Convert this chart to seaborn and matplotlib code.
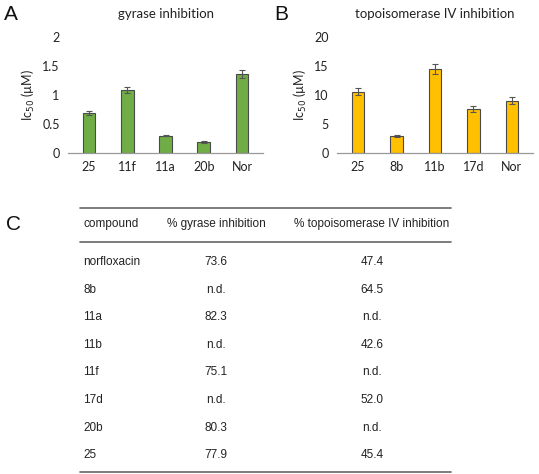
import matplotlib
matplotlib.use("Agg")
import matplotlib.pyplot as plt
import seaborn as sns
import pandas as pd
import numpy as np

# ---- data ----
gyr_compounds = ["25", "11f", "11a", "20b", "Nor"]
gyr_ic50 = [0.69, 1.09, 0.30, 0.19, 1.36]
gyr_err = [0.03, 0.05, 0.01, 0.01, 0.07]

topo_compounds = ["25", "8b", "11b", "17d", "Nor"]
topo_ic50 = [10.6, 2.9, 14.5, 7.6, 9.0]
topo_err = [0.6, 0.2, 0.9, 0.5, 0.6]

table_header = ["compound", "% gyrase inhibition", "% topoisomerase IV inhibition"]
table_compounds = ["norfloxacin", "8b", "11a", "11b", "11f", "17d", "20b", "25"]
table_gyrase = ["73.6", "n.d.", "82.3", "n.d.", "75.1", "n.d.", "80.3", "77.9"]
table_topo = ["47.4", "64.5", "n.d.", "42.6", "n.d.", "52.0", "n.d.", "45.4"]

sns.set_theme(style="white")
plt.rcParams['font.family'] = ['Lato', 'DejaVu Sans']

fig = plt.figure(figsize=(5.39, 4.74), dpi=100)

def bar_panel(rect, cats, vals, errs, color, ylim, yticks, yticklabels, title, letter, letter_x):
    ax = fig.add_axes(rect)
    df = pd.DataFrame({"compound": cats, "ic50": vals})
    sns.barplot(data=df, x="compound", y="ic50", color=color, width=0.33,
                edgecolor="#4a4a4a", linewidth=0.8, saturation=1, ax=ax, errorbar=None)
    ax.errorbar(np.arange(len(cats)), vals, yerr=errs, fmt="none",
                ecolor="#555555", elinewidth=0.8, capsize=2.0, capthick=0.8)
    ax.set_ylim(*ylim)
    ax.set_xlim(-0.55, len(cats) - 0.45)
    ax.set_yticks(yticks)
    ax.set_yticklabels(yticklabels, fontsize=9, color="#222222")
    ax.tick_params(axis="x", labelsize=9, colors="#222222", length=0, pad=6)
    ax.tick_params(axis="y", length=0, pad=6)
    for s in ["top", "right", "left"]:
        ax.spines[s].set_visible(False)
    ax.spines["bottom"].set_color("#999999")
    ax.spines["bottom"].set_linewidth(0.9)
    ax.set_xlabel("")
    ax.set_ylabel("Ic$_{50}$ (µM)", fontsize=9, color="#222222", labelpad=4)
    ax.set_title(title, fontsize=9.5, color="#222222", pad=14)
    fig.text(letter_x, 1 - 20 / 474, letter, fontsize=15, color="#111111",
             family=["Liberation Sans", "DejaVu Sans"])
    return ax

bar_panel([68 / 539, 1 - 153 / 474, 195 / 539, 116 / 474], gyr_compounds, gyr_ic50, gyr_err,
          "#70AD47", (0, 2), [0, 0.5, 1, 1.5, 2], ["0", "0.5", "1", "1.5", "2"],
          "gyrase inhibition", "A", 4 / 539)
bar_panel([337 / 539, 1 - 153 / 474, 196 / 539, 116 / 474], topo_compounds, topo_ic50, topo_err,
          "#FFC000", (0, 20), [0, 5, 10, 15, 20], ["0", "5", "10", "15", "20"],
          "topoisomerase IV inhibition", "B", 274 / 539)

# ---- table (panel C) ----
tx0, tx1 = 80 / 539, 451 / 539
tfont = dict(fontsize=8.5, color="#222222", family=["Liberation Sans", "DejaVu Sans"])
fig.text(6 / 539, 1 - 224 / 474, "C", fontsize=15, color="#111111", va="center",
         family=["Liberation Sans", "DejaVu Sans"])

def hline(ypix, lw):
    fig.add_artist(plt.Line2D([tx0, tx1], [1 - ypix / 474, 1 - ypix / 474],
                              color="#666666", linewidth=lw))

hline(208, 1.2)
hline(242, 1.2)
hline(472, 1.2)

col_x = [83 / 539, 216 / 539, 372 / 539]
hy = 1 - 224 / 474
fig.text(col_x[0], hy, table_header[0], ha="left", va="center", **tfont)
fig.text(col_x[1], hy, table_header[1], ha="center", va="center", **tfont)
fig.text(col_x[2], hy, table_header[2], ha="center", va="center", **tfont)

row_y0, row_dy = 262, 27.6
for i, (c, g, t) in enumerate(zip(table_compounds, table_gyrase, table_topo)):
    y = 1 - (row_y0 + i * row_dy) / 474
    fig.text(col_x[0], y, c, ha="left", va="center", **tfont)
    fig.text(col_x[1], y, g, ha="center", va="center", **tfont)
    fig.text(col_x[2], y, t, ha="center", va="center", **tfont)

fig.savefig("out.png", dpi=100, facecolor="white")
